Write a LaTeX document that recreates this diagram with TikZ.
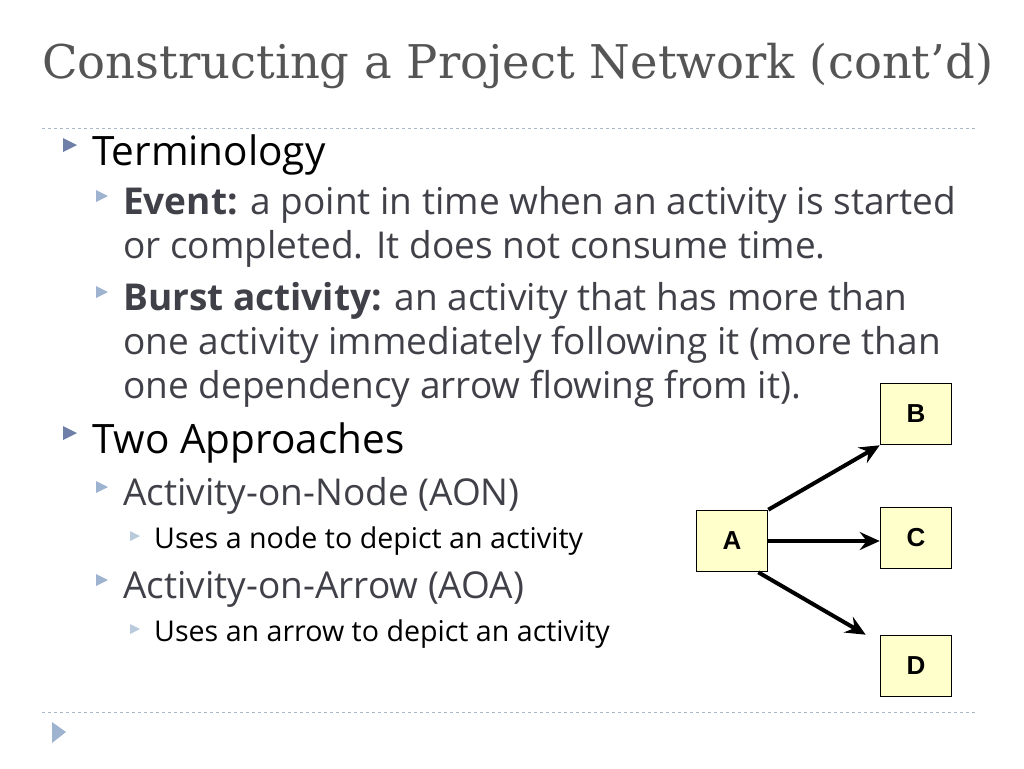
\documentclass[tikz,border=0pt]{standalone}
\usepackage{fontspec}
\setmainfont{Open Sans}
\newfontfamily\titlefont{DejaVu Serif}
\newfontfamily\arial{Liberation Sans}
\usetikzlibrary{arrows.meta}
\definecolor{tgray}{HTML}{555555}
\definecolor{bgray}{HTML}{404048}
\definecolor{bull}{HTML}{6E7FA8}
\definecolor{bull2}{HTML}{9DB3CF}
\definecolor{dashc}{HTML}{A9B8CA}
\definecolor{box}{HTML}{FFFFCC}
\begin{document}
\begin{tikzpicture}[x=1pt,y=-1pt,
  txt/.style={anchor=base west,inner sep=0,align=left},
  l1/.style={txt,font=\fontsize{40.5}{44}\selectfont,text=black},
  l2/.style={txt,font=\fontsize{37}{44}\selectfont,text=bgray},
  l3/.style={txt,font=\fontsize{28.6}{30}\selectfont,text=black},
  bx/.style={draw=black,fill=box,line width=1.6pt,minimum width=71pt,minimum height=61pt,inner sep=0,font=\arial\bfseries\fontsize{26}{26}\selectfont},
  ar/.style={line width=4pt,-{Stealth[length=20pt,width=18pt,inset=7pt]}}]
\useasboundingbox (0,0) rectangle (1024,768);
\node[anchor=base west,inner sep=0,text=tgray,font=\titlefont\fontsize{46.5}{50}\selectfont] (title) at (42,78) {Constructing a Project Network (cont’d)};
\draw[dashc,dashed,line width=1pt] (42,128) -- (975,128);
\draw[dashc,dashed,line width=1pt] (42,712) -- (975,712);
\fill[bull2] (52,722) -- (66,732) -- (52,743) -- cycle;
% bullets
\foreach \y in {145,433} \fill[bull] (63,\y-7) -- (77,\y) -- (63,\y+7) -- cycle;
\foreach \y in {196,292,487,580} \fill[bull2] (96,\y-6) -- (108,\y) -- (96,\y+6) -- cycle;
\foreach \y in {536,629} \fill[bull2!70] (130,\y-5) -- (140,\y) -- (130,\y+5) -- cycle;
\node[l1] (t1) at (92,165) {Terminology};
\node[l2] (t2) at (123,214) {\textbf{Event:} a point in time when an activity is started};
\node[l2] (t2b) at (123,258) {or completed. It does not consume time.};
\node[l2] (t3) at (123,310) {\textbf{Burst activity:} an activity that has more than};
\node[l2] (t3b) at (123,354) {one activity immediately following it (more than};
\node[l2] (t3c) at (123,398) {one dependency arrow flowing from it).};
\node[l1] (t4) at (92,453) {Two Approaches};
\node[l2] (t5) at (123,505) {Activity-on-Node (AON)};
\node[l3] (t6) at (154,548) {Uses a node to depict an activity};
\node[l2] (t7) at (123,598) {Activity-on-Arrow (AOA)};
\node[l3] (t8) at (154,641) {Uses an arrow to depict an activity};
% diagram
\node[bx] (A) at (732,541) {A};
\node[bx] (B) at (916,414) {B};
\node[bx] (C) at (916,538) {C};
\node[bx] (D) at (916,666) {D};
\draw[ar] (A.north east) -- (B.south west);
\draw[ar] (A.east) -- (A.east -| C.west);
\draw[ar] ([xshift=-10pt]A.south east) -- ([xshift=-14pt]D.north west);
\end{tikzpicture}
\end{document}
